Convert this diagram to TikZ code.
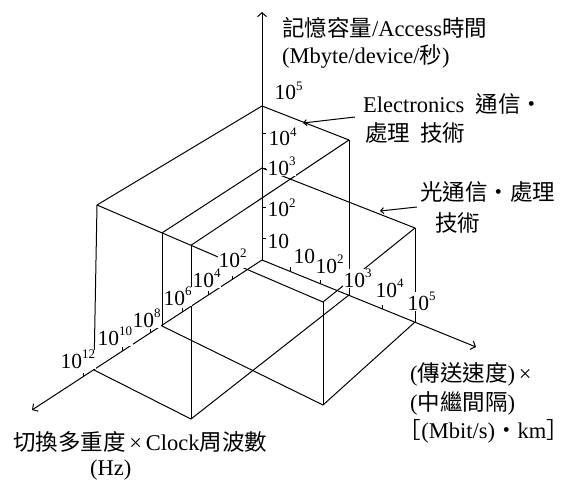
\documentclass[tikz,border=0pt]{standalone}
\usepackage{fontspec}
\setmainfont{Liberation Serif}
\newfontfamily\cjk{Noto Sans CJK TC}
\usetikzlibrary{arrows.meta}
\newcommand\pw[1]{10\raisebox{0.42em}{\fontsize{13}{13}\selectfont #1}}
\begin{document}
\begin{tikzpicture}[x=1pt,y=-1pt,
  edge/.style={line width=1pt},
  axis/.style={line width=1pt,-{Straight Barb[length=4pt,width=9pt]}},
  pointer/.style={line width=1pt,-{Straight Barb[length=3pt,width=6pt]}},
  tick/.style={line width=0.8pt},
  num/.style={font=\fontsize{21.5}{22}\selectfont, anchor=base west, inner sep=0.5pt, fill=white},
  txt/.style={font=\fontsize{22.5}{24}\selectfont, anchor=base west, inner sep=0pt},
  ]
\useasboundingbox (0,0) rectangle (575,484);
% corners
\coordinate (O) at (262,260);
\coordinate (Otop5) at (262,106);
\coordinate (Otop3) at (262,168);
\coordinate (Ae) at (94,370);   \coordinate (Aet) at (97,205);
\coordinate (Ao) at (162,326);  \coordinate (Aot) at (162,232.9);
\coordinate (E) at (191,419);   \coordinate (Et) at (191,245.3);
\coordinate (F) at (323,405);   \coordinate (Ft) at (323,302);
\coordinate (Be) at (349,295);  \coordinate (Bet) at (349,140);
\coordinate (Bo) at (415,322);  \coordinate (Bot) at (415,228);
\coordinate (Ztip) at (262,12);
\coordinate (Xtip) at (32,410);
\coordinate (Ytip) at (476,347);
% box edges
\draw[edge] (Otop5) -- (Aet);
\draw[edge] (Otop5) -- (Bet);
\draw[edge] (Aet) -- (Ft);
\draw[edge] (Et) -- (Bet);
\draw[edge] (Aot) -- (Otop3) -- (Bot);
\draw[edge] (Ft) -- (Bot);
\draw[edge] (Aet) -- (Ae);
\draw[edge] (Aot) -- (Ao);
\draw[edge] (Et) -- (E);
\draw[edge] (Ft) -- (F);
\draw[edge] (Bet) -- (Be);
\draw[edge] (Bot) -- (Bo);
\draw[edge] (Ae) -- (E) -- (Be);
\draw[edge] (Ao) -- (F) -- (Bo);
% axes
\draw[axis] (O) -- (Ztip);
\draw[axis] (O) -- (Xtip);
\draw[axis] (O) -- (Ytip);
% ticks
\foreach \y in {133,168,207,238} \draw[tick] (262,\y) -- (266,\y);
\foreach \x/\y in {232/279.6,208/295.2,182/312.2,150/333.0,122/351.3,83/376.7}
  \draw[tick] (\x,\y) -- (\x,\y-4);
\foreach \x/\y in {290/271.4,320/283.6,349/295.4,382/308.8,415/322.2}
  \draw[tick] (\x,\y) -- (\x,\y-4);
% vertical axis numbers
\node[num] (v5) at (274,100) {\pw{5}};
\node[num] (v4) at (268,146) {\pw{4}};
\node[num] (v3) at (267,175) {\pw{3}};
\node[num] (v2) at (267,216.5) {\pw{2}};
\node[num] (v1) at (267,248) {10};
% right axis numbers
\node[num] (r1) at (293,263) {10};
\node[num] (r2) at (315,273) {\pw{2}};
\node[num] (r3) at (343,287) {\pw{3}};
\node[num] (r4) at (375,297) {\pw{4}};
\node[num] (r5) at (407,310) {\pw{5}};
% Hz axis numbers
\node[num] (h2) at (218,267) {\pw{2}};
\node[num] (h4) at (192,287) {\pw{4}};
\node[num] (h6) at (163,305) {\pw{6}};
\node[num] (h8) at (132,327) {\pw{8}};
\node[num] (h10) at (97,345) {\pw{10}};
\node[num] (h12) at (60,368) {\pw{12}};
% axis titles
\node[txt] (t1) at (282,37) {{\cjk 記憶容量}/Access{\cjk 時間}};
\node[txt] (t2) at (282,64) {(Mbyte/device/{\cjk 秒})};
\node[txt] (x1) at (13,450) {{\cjk 切換多重度}\,×\,Clock{\cjk 周波數}};
\node[txt] (x2) at (90,475) {(Hz)};
\node[txt] (y1) at (410,381) {({\cjk 傳送速度})\,×};
\node[txt] (y2) at (410,410) {({\cjk 中繼間隔})};
\node[txt] (y3) at (410,438) {\hspace{-0.5em}{\cjk ［}(Mbit/s){\cjk ・}km{\cjk ］}};
% annotations
\node[txt] (e1) at (363,113) {Electronics\ \ {\cjk 通信・}};
\node[txt] (e2) at (365,141) {{\cjk 處理\ \ 技術}};
\node[txt] (o1) at (420,200) {{\cjk 光通信・處理}};
\node[txt] (o2) at (435,231) {{\cjk 技術}};
\coordinate (ea) at (303,123);
\coordinate (oa) at (380,211);
\draw[pointer] (355,117) -- (ea);
\draw[pointer] (417,207) -- (oa);
\end{tikzpicture}
\end{document}
